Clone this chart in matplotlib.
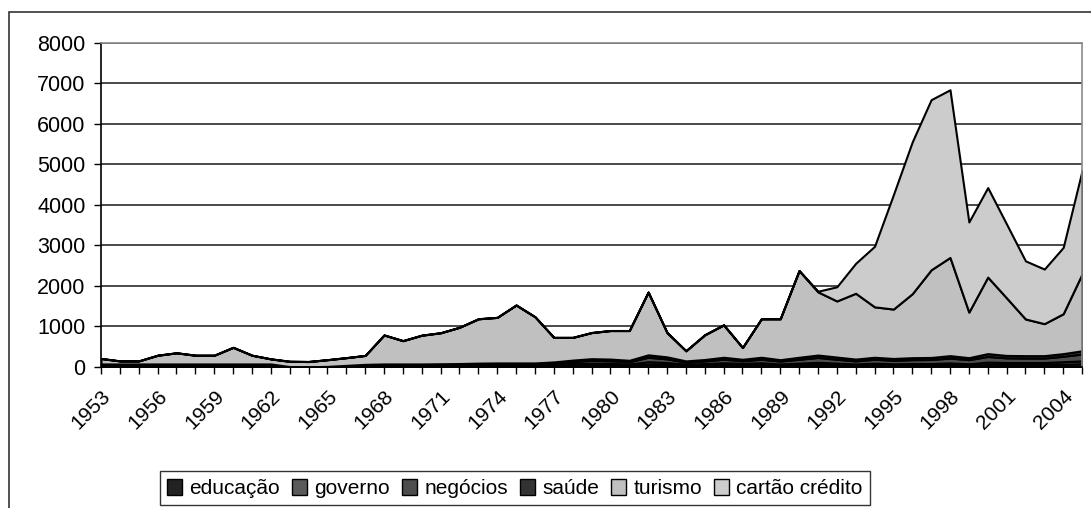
import numpy as np
import matplotlib
matplotlib.use("Agg")
import matplotlib.pyplot as plt
from matplotlib.patches import Patch, Rectangle

plt.rcParams['font.family'] = ['Liberation Sans', 'DejaVu Sans']

# === Data ===
years = list(range(1953, 2006))

educacao = [40] * 10 + [5, 0, 5, 15] + [25, 30, 30, 30, 30, 30, 35] + \
    [35, 35, 35, 40, 50, 55, 50] + [40, 70, 60, 40, 50, 60, 50, 60, 40, 50] + \
    [60, 50, 40, 50, 40, 40, 40, 50, 40, 60] + [60, 60, 60, 70, 80]
governo = [10] * 10 + [0, 0, 0, 5] + [10, 10, 10, 10, 10, 15, 15] + \
    [15, 15, 15, 25, 35, 40, 40] + [35, 60, 50, 30, 35, 45, 40, 45, 35, 45] + \
    [55, 45, 35, 45, 40, 45, 45, 50, 40, 60] + [50, 50, 50, 60, 70]
negocios = [10] * 10 + [5, 5, 5, 10] + [15, 15, 15, 15, 20, 20, 25] + \
    [25, 25, 25, 35, 50, 70, 65] + [55, 110, 90, 50, 65, 85, 65, 85, 70, 95] + \
    [120, 95, 75, 95, 85, 95, 100, 120, 100, 140] + [115, 110, 110, 135, 170]
saude = [15] * 10 + [0, 0, 5, 10] + [15, 20, 20, 20, 20, 20, 20] + \
    [25, 25, 25, 25, 35, 40, 40] + [35, 60, 50, 30, 35, 50, 35, 50, 35, 50] + \
    [60, 55, 45, 50, 45, 50, 50, 60, 50, 70] + [60, 60, 60, 65, 80]
turismo = [135, 75, 75, 215, 275, 215, 215, 410, 215, 125,
           130, 130, 165, 190, 220, 715, 575, 710, 765, 895,
           1095, 1125, 1430, 1140, 605, 560, 645, 705, 735, 1550,
           600, 250, 610, 800, 290, 950, 1010, 2140, 1560, 1385,
           1625, 1245, 1220, 1580, 2165, 2425, 1125, 1890, 1420, 905,
           790, 985, 1900]
cartao = [0] * 38 + [15, 350, 740, 1495, 2825, 3750, 4200, 4140, 2225,
                     2210, 1822, 1435, 1348, 1637, 2550]

labels = ["educação", "governo", "negócios", "saúde", "turismo", "cartão crédito"]
colors = ["#222222", "#5a5a5a", "#4d4d4d", "#333333", "#c0c0c0", "#cccccc"]

# === Plot ===
fig = plt.figure(figsize=(10.91, 5.08), dpi=100)
ax = fig.add_axes([0.0926, 0.2776, 0.8992, 0.6378])

ax.stackplot(years, educacao, governo, negocios, saude, turismo, cartao,
             colors=colors, edgecolor="black", linewidth=1.5)

ax.set_xlim(1953, 2005)
ax.set_ylim(0, 8000)
ax.set_yticks(range(0, 8001, 1000))
ax.yaxis.grid(True, color="#3a3a3a", linewidth=1.3)
ax.set_axisbelow(True)

ax.set_xticks(years)
ax.set_xticklabels([str(y) if (y - 1953) % 3 == 0 else "" for y in years],
                   rotation=45, ha="right", rotation_mode="anchor")
ax.tick_params(axis="x", direction="out", length=5, width=1, pad=9, labelsize=15)
ax.tick_params(axis="y", direction="out", length=5, width=1, pad=6, labelsize=15.5)

for s in ["top", "right"]:
    ax.spines[s].set_color("#8a8a8a")
    ax.spines[s].set_linewidth(1.2)
for s in ["left", "bottom"]:
    ax.spines[s].set_color("black")
    ax.spines[s].set_linewidth(1.2)

# outer chart frame (cut at the right and bottom edges)
fig.patches.append(Rectangle((0.0083, -0.1), 1.2, 1.0764, transform=fig.transFigure,
                             fill=False, edgecolor="#333333", linewidth=1.2))

handles = [Patch(facecolor=c, edgecolor="black", linewidth=1) for c in colors]
leg = fig.legend(handles, labels, ncol=6, loc="center",
                 bbox_to_anchor=(0.472, 0.039), bbox_transform=fig.transFigure,
                 fontsize=15, frameon=True, fancybox=False, edgecolor="black",
                 handlelength=0.7, handleheight=0.8, handletextpad=0.35,
                 columnspacing=0.6, borderpad=0.35)
leg.get_frame().set_linewidth(1)

fig.savefig("out.png", dpi=100)
